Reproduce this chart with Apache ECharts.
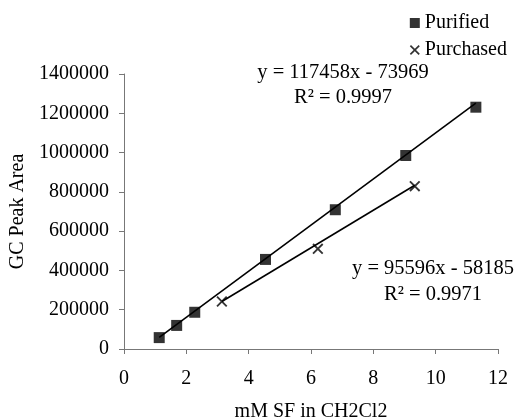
<!DOCTYPE html>
<html><head><meta charset="utf-8">
<script src="https://cdn.jsdelivr.net/npm/echarts@6/dist/echarts.min.js"></script>
<style>html,body{margin:0;padding:0;background:#fff}#c{width:520px;height:420px}</style>
</head><body><div id="c"></div>
<script>
// Data
var purifiedX = [1.13, 1.69, 2.27, 4.54, 6.78, 9.04, 11.29];
var purifiedY = [58000, 120000, 187000, 456000, 709000, 985000, 1231000];
var purchasedX = [3.14, 6.22, 9.33];
var purchasedY = [242000, 510000, 829000];
// Trendline equations (slope, intercept) shown on the chart
var purifiedFit = [117458, -73969];
var purchasedFit = [95596, -58185];
var purifiedR2 = '0.9997';
var purchasedR2 = '0.9971';
var xTicks = [0, 2, 4, 6, 8, 10, 12];
var yTicks = [0, 200000, 400000, 600000, 800000, 1000000, 1200000, 1400000];

var FONT = 'Liberation Serif';
function pairs(xs, ys){ return xs.map(function(x,i){ return [x, ys[i]]; }); }
function fitLine(xs, fit){
  var lo = Math.min.apply(null, xs), hi = Math.max.apply(null, xs);
  return [[lo, fit[0]*lo + fit[1]], [hi, fit[0]*hi + fit[1]]];
}
function eq(fit){ return 'y = ' + fit[0] + 'x - ' + Math.abs(fit[1]); }
var XPATH = 'path://M0,1.2L1.2,0L10,8.8L8.8,10Z M8.8,0L10,1.2L1.2,10L0,8.8Z';
function txt(s, x, y){
  return { type: 'text', x: x, y: y, style: { text: s, align: 'center', verticalAlign: 'middle',
    font: '20.5px "Liberation Serif"', fill: '#000' } };
}

var chart = echarts.init(document.getElementById('c'));
chart.setOption({
  animation: false,
  backgroundColor: '#fff',
  grid: { left: 124, right: 22, top: 74, bottom: 71, containLabel: false, outerBoundsMode: 'none' },
  legend: {
    orient: 'vertical', right: 8, top: 8, itemGap: 7, itemWidth: 10, itemHeight: 10,
    textStyle: { fontFamily: FONT, fontSize: 20, color: '#000' },
    data: [{ name: 'Purified', icon: 'rect' }, { name: 'Purchased', icon: XPATH }]
  },
  xAxis: {
    type: 'value', min: xTicks[0], max: xTicks[xTicks.length-1], interval: 2,
    name: 'mM SF in CH2Cl2', nameLocation: 'middle', nameGap: 53,
    nameTextStyle: { fontFamily: FONT, fontSize: 20, color: '#000' },
    axisLine: { lineStyle: { color: '#777', width: 1 } },
    axisTick: { inside: false, length: 5, lineStyle: { color: '#777' } },
    axisLabel: { fontFamily: FONT, fontSize: 20, color: '#000', margin: 20 },
    splitLine: { show: false }
  },
  yAxis: {
    type: 'value', min: yTicks[0], max: yTicks[yTicks.length-1], interval: 200000,
    name: 'GC Peak Area', nameLocation: 'middle', nameGap: 96, nameRotate: 90,
    nameTextStyle: { fontFamily: FONT, fontSize: 20, color: '#000' },
    axisLine: { show: true, lineStyle: { color: '#777', width: 1 } },
    axisTick: { show: true, inside: false, length: 5, lineStyle: { color: '#777' } },
    axisLabel: { fontFamily: FONT, fontSize: 20, color: '#000', margin: 15,
      formatter: function(v){ return String(v); } },
    splitLine: { show: false }
  },
  graphic: [
    txt(eq(purifiedFit), 343, 73),
    txt('R² = ' + purifiedR2, 343, 98),
    txt(eq(purchasedFit), 433, 269),
    txt('R² = ' + purchasedR2, 433, 295)
  ],
  series: [
    { name: 'PurifiedFit', type: 'line', data: fitLine(purifiedX, purifiedFit), symbol: 'none', silent: true,
      lineStyle: { color: '#000', width: 1.6 }, z: 1 },
    { name: 'PurchasedFit', type: 'line', data: fitLine(purchasedX, purchasedFit), symbol: 'none', silent: true,
      lineStyle: { color: '#000', width: 1.6 }, z: 1 },
    { name: 'Purified', type: 'scatter', data: pairs(purifiedX, purifiedY), symbol: 'rect', symbolSize: 11,
      itemStyle: { color: '#000' }, z: 3 },
    { name: 'Purchased', type: 'scatter', data: pairs(purchasedX, purchasedY), symbol: XPATH, symbolSize: 11,
      itemStyle: { color: '#000' }, z: 3 }
  ]
});
</script></body></html>
